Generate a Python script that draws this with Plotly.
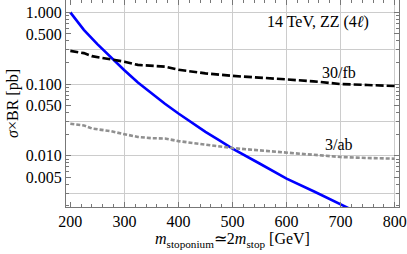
import plotly.graph_objects as go
import math

# ---- data ----
mass_signal = [200, 225, 250, 275, 300, 325, 350, 375, 400, 425, 450, 475, 500, 550, 600, 650, 700, 750]
sigma_signal = [1.0, 0.57, 0.361, 0.235, 0.156, 0.105, 0.0738, 0.0532, 0.0389, 0.0288, 0.0215,
                0.0165, 0.0126, 0.0078, 0.0048, 0.0032, 0.00208, 0.00138]

mass_bkg = [200, 225, 240, 275, 300, 325, 350, 375, 400, 450, 500, 550, 600, 650, 700, 750, 800]
reach_30fb = [0.29, 0.27, 0.245, 0.22, 0.205, 0.185, 0.178, 0.175, 0.158, 0.141, 0.13, 0.124,
              0.116, 0.109, 0.100, 0.097, 0.094]
reach_3ab = [0.028, 0.0265, 0.024, 0.022, 0.020, 0.0183, 0.0176, 0.0174, 0.016, 0.0143, 0.0128,
             0.0119, 0.011, 0.0102, 0.0096, 0.0093, 0.0091]

x_ticks = [200, 300, 400, 500, 600, 700, 800]
x_grid = [300, 400, 500, 600, 700, 800]
y_ticks = [0.005, 0.01, 0.05, 0.1, 0.5, 1.0]
y_ticktext = ["0.005", "0.010", "0.050", "0.100", "0.500", "1.000"]
y_grid = [0.003, 0.01, 0.03, 0.1, 0.3, 1.0]
y_minor = [m * 10.0 ** e for e in (-3, -2, -1) for m in (2, 3, 4, 6, 7, 8, 9)]

x_range = [192, 808]
y_range = [math.log10(0.00193), math.log10(1.486)]

serif = "Liberation Serif"
frame_col = "#777777"
fs = 16

fig = go.Figure()
fig.add_trace(go.Scatter(x=mass_signal, y=sigma_signal, mode="lines",
                         line=dict(color="#0000ff", width=2.6), showlegend=False))
fig.add_trace(go.Scatter(x=mass_bkg, y=reach_30fb, mode="lines",
                         line=dict(color="black", width=2.6, dash="8px,3px"), showlegend=False))
fig.add_trace(go.Scatter(x=mass_bkg, y=reach_3ab, mode="lines",
                         line=dict(color="#909090", width=2.6, dash="4px,2px"), showlegend=False))
# empty trace to host the tick-label axes
fig.add_trace(go.Scatter(x=[None], y=[None], xaxis="x2", yaxis="y2", showlegend=False))

fig.update_layout(
    width=407, height=254,
    margin=dict(l=66, r=8, t=0, b=47),
    paper_bgcolor="white", plot_bgcolor="white",
    font=dict(family=serif, size=fs, color="black"),
    xaxis=dict(range=x_range, showgrid=True, gridcolor="#cccccc", gridwidth=1,
               tickmode="array", tickvals=x_grid, showticklabels=False, ticks="",
               zeroline=False, showline=False),
    yaxis=dict(type="log", range=y_range, showgrid=True, gridcolor="#cccccc", gridwidth=1,
               tickmode="array", tickvals=y_grid, showticklabels=False, ticks="",
               zeroline=False, showline=False),
    xaxis2=dict(overlaying="x", anchor="y2", side="bottom", range=x_range,
                tickmode="array", tickvals=x_ticks, ticks="inside", ticklen=5,
                tickcolor=frame_col, showgrid=False, zeroline=False,
                showline=True, linecolor=frame_col, linewidth=1, mirror="ticks",
                minor=dict(dtick=20, tick0=200, ticks="inside", ticklen=3, tickcolor=frame_col,
                           showgrid=False),
                tickfont=dict(family=serif, size=fs, color="black"),
                title=dict(text="<i>m</i><sub>stoponium</sub>≃2<i>m</i><sub>stop</sub> [GeV]",
                           font=dict(family=serif, size=fs), standoff=3)),
    yaxis2=dict(overlaying="y", anchor="x2", side="left", type="log", range=y_range,
                tickmode="array", tickvals=y_ticks, ticktext=y_ticktext,
                ticks="inside", ticklen=5, tickcolor=frame_col, showgrid=False, zeroline=False,
                showline=True, linecolor=frame_col, linewidth=1, mirror="ticks",
                minor=dict(tickmode="array", tickvals=y_minor, ticks="inside", ticklen=3,
                           tickcolor=frame_col, showgrid=False),
                tickfont=dict(family=serif, size=fs, color="black"),
                title=dict(text="<i>σ</i>×BR [pb]", font=dict(family=serif, size=fs), standoff=3)),
)

fig.add_annotation(x=658, y=math.log10(0.73), text="14 TeV, ZZ (4<i>ℓ</i>)", showarrow=False,
                   font=dict(family=serif, size=fs, color="black"))
fig.add_annotation(x=697, y=math.log10(0.144), text="30/fb", showarrow=False,
                   font=dict(family=serif, size=fs, color="black"))
fig.add_annotation(x=697, y=math.log10(0.0145), text="3/ab", showarrow=False,
                   font=dict(family=serif, size=fs, color="black"))

fig.write_html("out.html", config={"displayModeBar": False},
               post_script="document.body.style.margin='0';document.body.style.overflow='hidden';")
